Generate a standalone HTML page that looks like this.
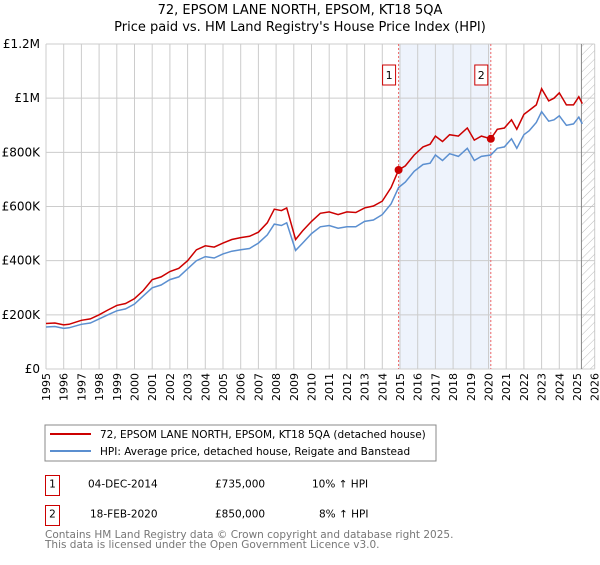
<!DOCTYPE html>
<html><head><meta charset="utf-8"><style>
body{margin:0;background:#fff;font-family:"Liberation Sans","DejaVu Sans",sans-serif;}
svg text{font-family:"DejaVu Sans","Liberation Sans",sans-serif;}
</style></head><body>
<svg id="chart" width="600" height="560" xmlns="http://www.w3.org/2000/svg">
<defs><pattern id="hatch" width="6" height="6" patternUnits="userSpaceOnUse" patternTransform="rotate(45)"><line x1="0" y1="0" x2="0" y2="6" stroke="#bbb" stroke-width="1"/></pattern></defs>
<text x="300" y="14" text-anchor="middle" font-size="13">72, EPSOM LANE NORTH, EPSOM, KT18 5QA</text>
<text x="300" y="31" text-anchor="middle" font-size="13">Price paid vs. HM Land Registry's House Price Index (HPI)</text>
<g id="grid"></g><g id="marks"></g>
<rect x="45" y="425" width="391" height="36" fill="#fff" stroke="#888"/>
<line x1="50" y1="434" x2="91" y2="434" stroke="#cc0000" stroke-width="2"/>
<text x="100" y="438" font-size="10.5">72, EPSOM LANE NORTH, EPSOM, KT18 5QA (detached house)</text>
<line x1="50" y1="451" x2="91" y2="451" stroke="#5b8fd0" stroke-width="2"/>
<text x="100" y="455" font-size="10.5">HPI: Average price, detached house, Reigate and Banstead</text>
<g font-size="10.5">
<rect x="45.5" y="475.5" width="14" height="20" fill="#fff" stroke="#cc0000"/>
<text x="52.5" y="487.5" text-anchor="middle">1</text>
<text x="88" y="487.5">04-DEC-2014</text><text x="215" y="487.5">£735,000</text><text x="312" y="487.5">10% ↑ HPI</text>
<rect x="45.5" y="505.5" width="14" height="20" fill="#fff" stroke="#cc0000"/>
<text x="52.5" y="517.5" text-anchor="middle">2</text>
<text x="90" y="517.5">18-FEB-2020</text><text x="215" y="517.5">£850,000</text><text x="319" y="517.5">8% ↑ HPI</text>
</g>
<text x="45" y="538" font-size="10.5" fill="#777">Contains HM Land Registry data © Crown copyright and database right 2025.</text>
<text x="45" y="548" font-size="10.5" fill="#777">This data is licensed under the Open Government Licence v3.0.</text>
</svg>
<script>
const times=[1995,1995.5,1996,1996.3,1997,1997.5,1998,1998.5,1999,1999.5,2000,2000.5,2001,2001.5,2002,2002.5,2003,2003.5,2004,2004.5,2005,2005.5,2006,2006.5,2007,2007.5,2007.9,2008.3,2008.6,2009.1,2009.5,2010,2010.5,2011,2011.5,2012,2012.5,2013,2013.5,2014,2014.5,2014.92,2015.3,2015.8,2016.3,2016.7,2017,2017.4,2017.8,2018.3,2018.8,2019.2,2019.6,2020.13,2020.5,2020.9,2021.3,2021.6,2022,2022.3,2022.7,2023,2023.4,2023.7,2024,2024.4,2024.8,2025.1,2025.3];
const hpiValues=[155,157,150,152,165,170,185,200,215,222,240,270,300,310,330,340,370,400,415,410,425,435,440,445,465,495,535,530,540,438,465,500,525,530,520,525,525,545,550,570,610,670,690,730,755,760,790,770,795,785,815,770,785,790,815,820,850,815,865,880,910,950,915,920,935,900,905,930,905];
const propertyValues=[168,170,163,165,180,185,200,218,235,242,260,290,330,340,360,372,400,440,455,450,465,478,485,490,505,540,590,585,595,478,510,545,575,580,570,580,578,595,602,620,670,735,750,790,820,830,860,840,865,860,890,845,860,850,885,890,920,885,940,955,975,1035,990,1000,1020,975,975,1005,980];
const saleTimes=[2014.92,2020.13];
const saleValues=[735,850];
const saleLabels=["1","2"];
const yTicks=[0,200,400,600,800,1000,1200];
const yTickLabels=["£0","£200K","£400K","£600K","£800K","£1M","£1.2M"];
const xYears=[];for(let y=1995;y<=2026;y++)xYears.push(y);
const X0=46,XW=17.7,Y0=369,YH=325,YMAX=1200;
const xs=t=>X0+(t-1995)*XW, ys=v=>Y0-v/YMAX*YH;
const NS="http://www.w3.org/2000/svg";
const grid=document.getElementById('grid'),marks=document.getElementById('marks');
function mk(tag,attrs,parent){const e=document.createElementNS(NS,tag);for(const k in attrs)e.setAttribute(k,attrs[k]);parent.appendChild(e);return e;}
const right=xs(2026);
let sh=mk('rect',{x:xs(saleTimes[0]),y:ys(YMAX),width:xs(saleTimes[1])-xs(saleTimes[0]),height:YH,fill:'#eef3fc'},grid);


xYears.forEach(y=>{
 const l=mk('line',{x1:xs(y),x2:xs(y),y1:ys(YMAX),y2:Y0,stroke:'#ccc'},grid);
 
 
 const t=mk('text',{x:0,y:0,'font-size':11,'text-anchor':'end',transform:`translate(${xs(y)+4},${Y0+4}) rotate(-90)`},grid);
 t.textContent=y;
 
 
});
yTicks.forEach((v,i)=>{
 const l=mk('line',{x1:X0,x2:right,y1:ys(v),y2:ys(v),stroke:'#ccc'},grid);
 
 
 const t=mk('text',{x:40,y:ys(v)+4,'font-size':12,'text-anchor':'end'},grid);
 t.textContent=yTickLabels[i];
 
 
});
const hx=xs(2025.25);
let ha=mk('rect',{x:hx,y:ys(YMAX),width:right-hx,height:YH,fill:'url(#hatch)'},grid);


let hl=mk('line',{x1:hx,x2:hx,y1:ys(YMAX),y2:Y0,stroke:'#888'},grid);


saleTimes.forEach((t,i)=>{
 const l=mk('line',{x1:xs(t),x2:xs(t),y1:ys(YMAX),y2:Y0,stroke:'#e66','stroke-dasharray':'2,2'},grid);
 
 
 const b=mk('rect',{x:xs(t)-16,y:65,width:13,height:20,fill:'#fff',stroke:'#cc0000'},grid);
 
 
 const tx=mk('text',{x:xs(t)-9.5,y:79,'font-size':11,'text-anchor':'middle'},grid);
 tx.textContent=saleLabels[i];
 
 
});
const pts=vals=>times.map((t,i)=>xs(t).toFixed(1)+','+ys(vals[i]).toFixed(1)).join(' ');
let hp=mk('polyline',{points:pts(hpiValues),fill:'none',stroke:'#5b8fd0','stroke-width':1.5},marks);


let pp=mk('polyline',{points:pts(propertyValues),fill:'none',stroke:'#cc0000','stroke-width':1.5},marks);


saleTimes.forEach((t,i)=>{
 const c=mk('circle',{cx:xs(t),cy:ys(saleValues[i]),r:4,fill:'#cc0000'},marks);
 
 
});
</script>
</body></html>
